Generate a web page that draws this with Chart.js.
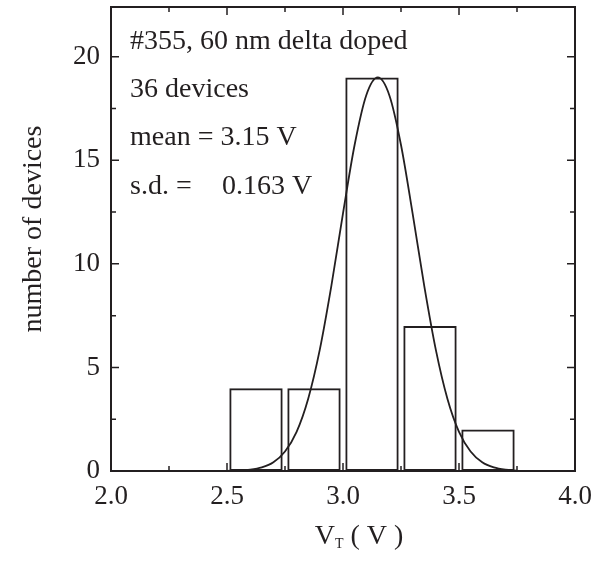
<!DOCTYPE html>
<html>
<head>
<meta charset="utf-8">
<script src="https://cdn.jsdelivr.net/npm/chart.js@4/dist/chart.umd.min.js"></script>
<style>
    body { margin: 0; background: #fff; }
    #wrap { width: 595px; height: 563px; }
</style>
</head>
<body>
<div id="wrap"><canvas id="hist" width="595" height="563"></canvas></div>
<script>
// histogram bins (centre of each 0.25 V bin) and counts
const vtBinCentres = [2.625, 2.875, 3.125, 3.375, 3.625];
const deviceCounts = [4, 4, 19, 7, 2];

// gaussian fit curve
const fitVt = [2.50, 2.55, 2.60, 2.65, 2.70, 2.75, 2.80, 2.85, 2.90, 2.95, 3.00, 3.05, 3.10,
    3.15, 3.20, 3.25, 3.30, 3.35, 3.40, 3.45, 3.50, 3.55, 3.60, 3.65, 3.70, 3.75];
const fitCounts = [0.01, 0.02, 0.06, 0.17, 0.42, 0.94, 1.89, 3.49, 5.86, 8.95, 12.44, 15.74, 18.13,
    19.0, 18.13, 15.74, 12.44, 8.95, 5.86, 3.49, 1.89, 0.94, 0.42, 0.17, 0.06, 0.02];

// axis ticks
const xTicks = [2.0, 2.25, 2.5, 2.75, 3.0, 3.25, 3.5, 3.75, 4.0];
const xMajor = [2.0, 2.5, 3.0, 3.5, 4.0];
const yTicks = [0, 2.5, 5, 7.5, 10, 12.5, 15, 17.5, 20, 22.5];
const yMajor = [0, 5, 10, 15, 20];

const ink = '#231f20';
const serif = '"Liberation Serif", "Times New Roman", serif';

const notes = [
    ['#355, 60 nm delta doped', 130, 42],
    ['36 devices', 130, 90],
    ['mean = 3.15 V', 130, 138],
    ['s.d. =', 130, 187],
    ['0.163 V', 222, 187]
];

const framePlugin = {
    id: 'frame',
    afterDatasetsDraw(chart) {
        const ctx = chart.ctx;
        const a = chart.chartArea;
        const xs = chart.scales.x, ys = chart.scales.y;
        ctx.save();
        ctx.strokeStyle = ink;
        ctx.lineWidth = 2;
        ctx.strokeRect(a.left, a.top, a.right - a.left, a.bottom - a.top);

        ctx.lineWidth = 1.5;
        ctx.beginPath();
        xTicks.forEach(v => {
            const p = xs.getPixelForValue(v);
            const len = xMajor.includes(v) ? 8 : 5;
            ctx.moveTo(p, a.bottom); ctx.lineTo(p, a.bottom - len);
            ctx.moveTo(p, a.top); ctx.lineTo(p, a.top + len);
        });
        yTicks.forEach(v => {
            if (v > ys.max) return;
            const p = ys.getPixelForValue(v);
            const len = yMajor.includes(v) ? 8 : 5;
            ctx.moveTo(a.left, p); ctx.lineTo(a.left + len, p);
            ctx.moveTo(a.right, p); ctx.lineTo(a.right - len, p);
        });
        ctx.stroke();

        // notes inside the plot
        ctx.fillStyle = ink;
        ctx.font = '28px ' + serif;
        ctx.textBaseline = 'middle';
        ctx.textAlign = 'left';
        notes.forEach(n => ctx.fillText(n[0], n[1], n[2]));

        // y title
        ctx.save();
        ctx.translate(41, 229);
        ctx.rotate(-Math.PI / 2);
        ctx.textAlign = 'center';
        ctx.textBaseline = 'alphabetic';
        ctx.fillText('number of devices', 0, 0);
        ctx.restore();

        // x title with subscript
        const big = '28px ' + serif, small = '14px ' + serif;
        ctx.textBaseline = 'alphabetic';
        ctx.font = big;
        const wV = ctx.measureText('V').width;
        const wRest = ctx.measureText(' ( V )').width;
        ctx.font = small;
        const wT = ctx.measureText('T').width;
        let x = 359 - (wV + wT + wRest) / 2;
        const base = 544;
        ctx.font = big;
        ctx.fillText('V', x, base);
        x += wV;
        ctx.font = small;
        ctx.fillText('T', x, base + 4);
        x += wT;
        ctx.font = big;
        ctx.fillText(' ( V )', x, base);
        ctx.restore();
    }
};

function noEdgePadding(s) {
    s.paddingLeft = 0;
    s.paddingRight = 0;
    s.paddingTop = 0;
    s.paddingBottom = 0;
}

new Chart(document.getElementById('hist'), {
    data: {
        datasets: [
            {
                type: 'bar',
                data: vtBinCentres.map((v, i) => ({ x: v, y: deviceCounts[i] })),
                backgroundColor: 'rgba(0,0,0,0)',
                borderColor: ink,
                borderWidth: 2,
                borderSkipped: false,
                categoryPercentage: 1,
                barPercentage: 0.92,
                order: 2
            },
            {
                type: 'line',
                data: fitVt.map((v, i) => ({ x: v, y: fitCounts[i] })),
                borderColor: ink,
                borderWidth: 1.8,
                pointRadius: 0,
                fill: false,
                cubicInterpolationMode: 'monotone',
                order: 1
            }
        ]
    },
    options: {
        responsive: false,
        animation: false,
        layout: { padding: { top: 7, right: 20, left: 0, bottom: 0 } },
        plugins: {
            legend: { display: false },
            tooltip: { enabled: false }
        },
        scales: {
            x: {
                type: 'linear',
                min: 2.0,
                max: 4.0,
                offset: false,
                grid: { display: false, drawTicks: false },
                border: { display: false },
                afterFit: s => { s.height = 92; noEdgePadding(s); },
                ticks: {
                    stepSize: 0.5,
                    padding: 10,
                    color: ink,
                    font: { family: serif, size: 27 },
                    callback: v => v.toFixed(1),
                    maxRotation: 0
                }
            },
            y: {
                min: 0,
                max: 22.4,
                grid: { display: false, drawTicks: false },
                border: { display: false },
                afterFit: s => { s.width = 111; noEdgePadding(s); },
                ticks: {
                    stepSize: 5,
                    includeBounds: false,
                    padding: 11,
                    color: ink,
                    font: { family: serif, size: 27 }
                }
            }
        }
    },
    plugins: [framePlugin]
});
</script>
</body>
</html>
